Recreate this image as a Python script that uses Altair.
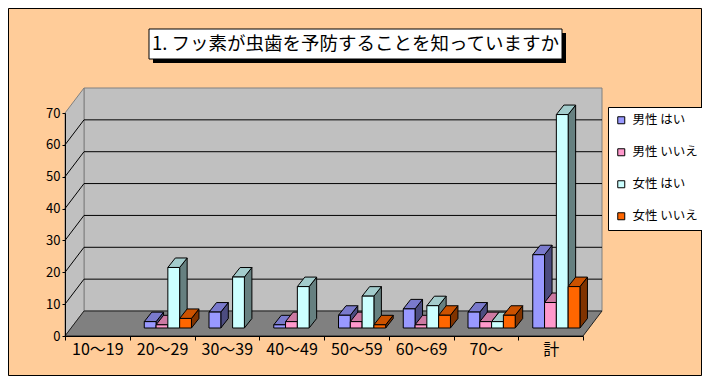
import altair as alt
import pandas as pd

# ---------------- data ----------------
categories = ["10〜19", "20〜29", "30〜39", "40〜49", "50〜59", "60〜69", "70〜", "計"]
series = ["男性 はい", "男性 いいえ", "女性 はい", "女性 いいえ"]
male_yes = [0, 2, 5, 1, 4, 6, 5, 23]
male_no = [0, 1, 0, 2, 2, 1, 2, 8]
female_yes = [0, 19, 16, 13, 10, 7, 2, 67]
female_no = [0, 3, 0, 0, 1, 4, 4, 13]
y_ticks = [0, 10, 20, 30, 40, 50, 60, 70]
title_text = "1. フッ素が虫歯を予防することを知っていますか"

# ---------------- styles ----------------
front_colors = ["#9999FF", "#FF99CC", "#CCFFFF", "#FF6600"]
top_colors = ["#7A7ACC", "#CC7AA3", "#A3CCCC", "#CC5200"]
side_colors = ["#4C4C80", "#804C66", "#668080", "#803300"]
FONT = "Noto Sans CJK JP"

# ---------------- layout (pixels) ----------------
W, H = 518, 223
NCAT = len(categories)
YMAX = y_ticks[-1]
ux = NCAT / W          # data units per pixel (x)
uy = YMAX / H          # data units per pixel (y)
CAT_W = W / NCAT
BAR_W = 11.8 * ux
GROUP_START = 8.5 * ux
GAP_X, GAP_Y = 6 * ux, 8 * uy
DEP_X, DEP_Y = 7.5 * ux, 9.5 * uy
WALL_X, WALL_Y = 19 * ux, 25 * uy

values = [male_yes, male_no, female_yes, female_no]

fronts, sides, tops = [], [], []
for ci, cat in enumerate(categories):
    for si, s in enumerate(series):
        v = values[si][ci]
        if v <= 0:
            continue
        key = f"{ci:02d}{si}"
        x0 = ci + GROUP_START + si * BAR_W + GAP_X
        x1 = x0 + BAR_W
        fronts.append(dict(key=key, series=s, cat=cat, value=v, x=x0, x2=x1, y=GAP_Y, y2=v + GAP_Y))
        sides.append(dict(key=key, series=s, x=x1, y=GAP_Y, y2=v + GAP_Y))
        sides.append(dict(key=key, series=s, x=x1 + DEP_X, y=GAP_Y + DEP_Y, y2=v + GAP_Y + DEP_Y))
        tops.append(dict(key=key, series=s, y=v + GAP_Y, x=x0, x2=x1))
        tops.append(dict(key=key, series=s, y=v + GAP_Y + DEP_Y, x=x0 + DEP_X, x2=x1 + DEP_X))

df_front = pd.DataFrame(fronts)
df_side = pd.DataFrame(sides)
df_top = pd.DataFrame(tops)

xscale = alt.Scale(domain=[0, NCAT], nice=False, zero=False)
yscale = alt.Scale(domain=[0, YMAX], nice=False, zero=False)

label_arr = "[" + ",".join(f"'{c}'" for c in categories) + "]"
xaxis = alt.Axis(
    values=list(range(NCAT + 1)),
    labelExpr=f"datum.value < {NCAT} ? {label_arr}[datum.value] : ''",
    labelOffset=CAT_W / 2,
    labelOverlap=False, labelBound=False, labelFlush=False,
    tickSize=4, labelPadding=1, grid=False, title=None,
    labelFontSize=16, labelFont=FONT, labelColor="black",
    domainColor="black", tickColor="black", zindex=1,
)
yaxis = alt.Axis(
    values=y_ticks, tickSize=3, labelPadding=2, grid=False, title=None,
    labelFontSize=13, labelFont=FONT, labelColor="black",
    domainColor="black", tickColor="black", zindex=1,
)


def X(f):
    return alt.X(f"{f}:Q", scale=xscale, axis=xaxis)


def Y(f):
    return alt.Y(f"{f}:Q", scale=yscale, axis=yaxis)


# ---------------- walls / floor ----------------
df_back = pd.DataFrame([dict(x=WALL_X, x2=NCAT + WALL_X, y=WALL_Y, y2=YMAX + WALL_Y)])
back_wall = alt.Chart(df_back).mark_rect(fill="#C0C0C0", stroke="#808080", strokeWidth=1).encode(
    x=X("x"), x2="x2:Q", y=Y("y"), y2="y2:Q")

df_left = pd.DataFrame([dict(x=0, y=0, y2=YMAX), dict(x=WALL_X, y=WALL_Y, y2=YMAX + WALL_Y)])
left_wall = alt.Chart(df_left).mark_area(orient="vertical", fill="#C0C0C0", stroke="#808080",
                                         strokeWidth=1).encode(x=X("x"), y=Y("y"), y2="y2:Q")

grid_vals = y_ticks[1:-1]
df_grid_back = pd.DataFrame([dict(x=WALL_X, x2=NCAT + WALL_X, y=v + WALL_Y) for v in grid_vals])
grid_back = alt.Chart(df_grid_back).mark_rule(color="black", strokeWidth=1).encode(
    x=X("x"), x2="x2:Q", y=Y("y"))
df_grid_left = pd.DataFrame([dict(x=0, x2=WALL_X, y=v, y2=v + WALL_Y) for v in grid_vals])
grid_left = alt.Chart(df_grid_left).mark_rule(color="black", strokeWidth=1).encode(
    x=X("x"), x2="x2:Q", y=Y("y"), y2="y2:Q")

df_floor = pd.DataFrame([dict(y=0, x=0, x2=NCAT), dict(y=WALL_Y, x=WALL_X, x2=NCAT + WALL_X)])
floor = alt.Chart(df_floor).mark_area(orient="horizontal", fill="#808080", stroke="#202020",
                                      strokeWidth=1).encode(y=Y("y"), x=X("x"), x2="x2:Q")

# ---------------- bars ----------------
side_layer = alt.Chart(df_side).mark_area(orient="vertical", stroke="black", strokeWidth=1).encode(
    x=X("x"), y=Y("y"), y2="y2:Q", detail="key:N",
    fill=alt.Fill("series:N", scale=alt.Scale(domain=series, range=side_colors), legend=None))
top_layer = alt.Chart(df_top).mark_area(orient="horizontal", stroke="black", strokeWidth=1).encode(
    y=Y("y"), x=X("x"), x2="x2:Q", detail="key:N",
    fill=alt.Fill("series:N", scale=alt.Scale(domain=series, range=top_colors), legend=None))
front_layer = alt.Chart(df_front).mark_rect(stroke="black", strokeWidth=1).encode(
    x=X("x"), x2="x2:Q", y=Y("y"), y2="y2:Q",
    fill=alt.Fill("series:N", scale=alt.Scale(domain=series, range=front_colors),
                  legend=alt.Legend(
                      title=None, orient="none", legendX=543, legendY=-6, direction="vertical",
                      fillColor="white", strokeColor="black", padding=7,
                      symbolType="square", symbolSize=49, symbolStrokeColor="black",
                      symbolStrokeWidth=1, labelFontSize=12.5, labelFont=FONT,
                      labelColor="black", labelOffset=5, rowPadding=19)))

# ---------------- title box ----------------
dummy = pd.DataFrame({"k": [0]})
title_shadow = alt.Chart(dummy).mark_rect(fill="black").encode(
    x=alt.value(88), x2=alt.value(501), y=alt.value(-80), y2=alt.value(-50))
title_box = alt.Chart(dummy).mark_rect(fill="white", stroke="black", strokeWidth=1).encode(
    x=alt.value(84), x2=alt.value(497), y=alt.value(-84), y2=alt.value(-54))
title_mark = alt.Chart(dummy).mark_text(fontSize=18.5, font=FONT, color="black", align="center",
                                        baseline="middle").encode(
    x=alt.value(290.5), y=alt.value(-69), text=alt.value(title_text))
frame = alt.Chart(dummy).mark_rect(fill="transparent", stroke="black", strokeWidth=1).encode(
    x=alt.value(-56.5), x2=alt.value(636.5), y=alt.value(-104.5), y2=alt.value(262.5))

chart = alt.layer(
    frame, title_shadow, title_box, title_mark,
    back_wall, left_wall, grid_back, grid_left, floor,
    side_layer, top_layer, front_layer,
).resolve_scale(fill="independent").properties(
    width=W, height=H,
    autosize=alt.AutoSizeParams(type="none"),
    padding={"left": 57, "top": 105, "right": 119, "bottom": 40},
    background="#FFCC99",
).configure_view(strokeWidth=0)

chart.save("out.html", embed_options={"renderer": "svg", "actions": False})
